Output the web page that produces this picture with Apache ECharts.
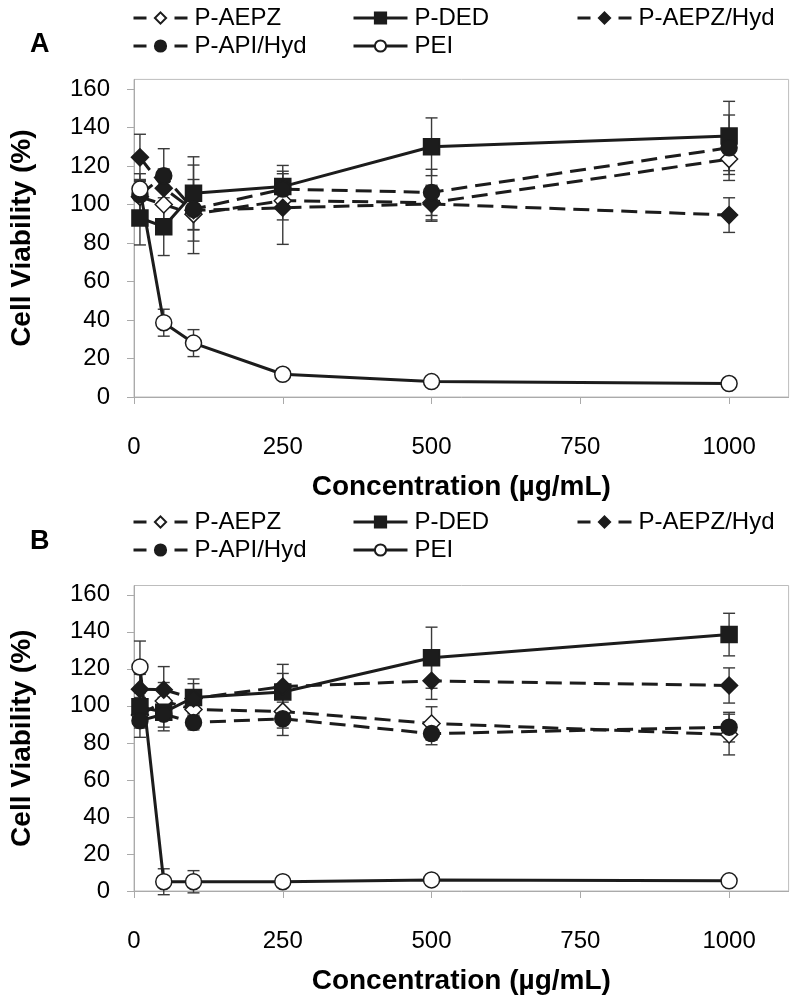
<!DOCTYPE html>
<html><head><meta charset="utf-8">
<script src="https://cdn.jsdelivr.net/npm/echarts@6/dist/echarts.min.js"></script>
<style>html,body{margin:0;padding:0;background:#fff}#c{width:800px;height:996px}</style>
</head><body><div id="c"></div>
<script>
// ---- data ----
const concentrations = [10, 50, 100, 250, 500, 1000];
const seriesNames = ['P-AEPZ', 'P-DED', 'P-AEPZ/Hyd', 'P-API/Hyd', 'PEI'];
const xTicks = [0, 250, 500, 750, 1000];
const yTicks = [0, 20, 40, 60, 80, 100, 120, 140, 160];

// Panel A
const aAEPZ      = [104, 100, 95, 102, 101, 123.6];
const aAEPZErr   = [8, 8, 8, 10, 9, 8];
const aDED       = [93, 88.5, 105.8, 109.3, 130, 135.6];
const aDEDErr    = [14, 15, 19, 11, 15, 18];
const aAEPZHyd   = [124.5, 108.5, 97, 98.3, 100.3, 94.5];
const aAEPZHydErr= [12, 10, 16, 19, 9, 9];
const aAPIHyd    = [105, 115, 97.5, 108, 106.3, 129.5];
const aAPIHydErr = [11, 14, 23, 8, 12, 17];
const aPEI       = [108, 38.6, 28, 11.8, 8, 7];
const aPEIErr    = [5, 7, 7, 2, 1, 1];

// Panel B
const bAEPZ      = [95, 102.6, 98, 97, 90.5, 84.5];
const bAEPZErr   = [7, 10, 10, 9, 9, 11];
const bDED       = [99.5, 96.5, 104.5, 107.5, 126, 138.5];
const bDEDErr    = [5, 8, 10, 10, 16.5, 11.5];
const bAEPZHyd   = [109, 108.7, 104, 110.4, 113.5, 111];
const bAEPZHydErr= [8, 12.5, 8, 12, 10, 9.5];
const bAPIHyd    = [92, 95.5, 91, 93, 85, 88.5];
const bAPIHydErr = [9, 9, 4, 9, 6, 8];
const bPEI       = [121, 5, 5, 5, 6, 5.5];
const bPEIErr    = [14, 7, 6, 1, 1, 1];

// ---- styles ----
const INK = '#1c1c1c';
const FONT = 'Liberation Sans, Arial, sans-serif';
const styles = {
  'P-AEPZ':     {symbol: 'diamond', size: 17, fill: '#fff', dash: [16, 8], legendDash: [13, 28]},
  'P-DED':      {symbol: 'rect', size: 16, fill: INK, dash: 'solid', legendDash: 'solid'},
  'P-AEPZ/Hyd': {symbol: 'diamond', size: 17, fill: INK, dash: [16, 8], legendDash: [13, 28]},
  'P-API/Hyd':  {symbol: 'circle', size: 16, fill: INK, dash: [16, 8], legendDash: [13, 28]},
  'PEI':        {symbol: 'circle', size: 16, fill: '#fff', dash: 'solid', legendDash: 'solid'}
};

const panels = [
  {vals: [aAEPZ, aDED, aAEPZHyd, aAPIHyd, aPEI], errs: [aAEPZErr, aDEDErr, aAEPZHydErr, aAPIHydErr, aPEIErr]},
  {vals: [bAEPZ, bDED, bAEPZHyd, bAPIHyd, bPEI], errs: [bAEPZErr, bDEDErr, bAEPZHydErr, bAPIHydErr, bPEIErr]}
];

const gridTops = [79.4, 585.5];
const gridHeights = [317.6, 316];

const grids = [], xAxes = [], yAxes = [], series = [], legends = [], graphics = [];

const legendPos = [
  {name: 'P-AEPZ', left: 132, row: 0},
  {name: 'P-DED', left: 352, row: 0},
  {name: 'P-AEPZ/Hyd', left: 576, row: 0},
  {name: 'P-API/Hyd', left: 132, row: 1},
  {name: 'PEI', left: 352, row: 1}
];
const legendRowTops = [[6, 34], [510, 538]];
const panelLabels = ['A', 'B'];
const panelLabelTops = [31, 528];

panels.forEach((p, pi) => {
  grids.push({left: 122, top: gridTops[pi], width: 666.6, height: gridHeights[pi], show: true,
              borderColor: '#bdbdbd', borderWidth: 1, backgroundColor: 'transparent'});
  xAxes.push({type: 'value', gridIndex: pi, min: 0, max: 1100,
    name: 'Concentration (µg/mL)', nameLocation: 'middle', nameGap: 76,
    nameTextStyle: {fontFamily: FONT, fontWeight: 'bold', fontSize: 28, color: '#000'},
    axisLine: {show: true, lineStyle: {color: '#aaa', width: 1}},
    axisTick: {show: true, length: 7, lineStyle: {color: '#aaa'}, customValues: xTicks},
    axisLabel: {fontFamily: FONT, fontSize: 24, color: '#000', margin: 38, customValues: xTicks,
                formatter: v => String(v)},
    splitLine: {show: false}});
  yAxes.push({type: 'value', gridIndex: pi, min: 0, max: 165,
    name: 'Cell Viability (%)', nameLocation: 'middle', nameGap: 98, nameRotate: 90,
    nameTextStyle: {fontFamily: FONT, fontWeight: 'bold', fontSize: 28, color: '#000'},
    axisLine: {show: true, lineStyle: {color: '#aaa', width: 1}},
    axisTick: {show: true, length: 7, lineStyle: {color: '#aaa'}, customValues: yTicks},
    axisLabel: {fontFamily: FONT, fontSize: 24, color: '#000', margin: 24, customValues: yTicks,
                formatter: v => String(v)},
    splitLine: {show: false}});

  // error bars
  seriesNames.forEach((nm, si) => {
    const data = concentrations.map((c, i) => [c, p.vals[si][i] - p.errs[si][i], p.vals[si][i] + p.errs[si][i]]);
    series.push({type: 'custom', xAxisIndex: pi, yAxisIndex: pi, z: 1, silent: true,
      data: data,
      renderItem: function (params, api) {
        const x = api.value(0);
        const lo = api.coord([x, api.value(1)]);
        const hi = api.coord([x, api.value(2)]);
        const w = 6;
        const st = {stroke: '#3a3a3a', lineWidth: 1.4};
        return {type: 'group', children: [
          {type: 'line', shape: {x1: lo[0], y1: lo[1], x2: hi[0], y2: hi[1]}, style: st},
          {type: 'line', shape: {x1: lo[0] - w, y1: lo[1], x2: lo[0] + w, y2: lo[1]}, style: st},
          {type: 'line', shape: {x1: hi[0] - w, y1: hi[1], x2: hi[0] + w, y2: hi[1]}, style: st}
        ]};
      }});
  });
  // lines
  seriesNames.forEach((nm, si) => {
    const s = styles[nm];
    series.push({type: 'line', name: nm, xAxisIndex: pi, yAxisIndex: pi, z: 3,
      data: concentrations.map((c, i) => [c, p.vals[si][i]]),
      symbol: s.symbol, symbolSize: s.size, showAllSymbol: true,
      lineStyle: {color: INK, width: 3, type: s.dash},
      itemStyle: {color: s.fill, borderColor: INK, borderWidth: 1.5},
      emphasis: {disabled: true}, animation: false});
  });

  legendPos.forEach(lp => {
    legends.push({data: [lp.name], left: lp.left, top: legendRowTops[pi][lp.row],
      itemWidth: 54, itemHeight: 14, itemGap: 0, padding: 0,
      lineStyle: {type: styles[lp.name].legendDash, width: 3},
      textStyle: {fontFamily: FONT, fontSize: 24, color: '#000', padding: [0, 0, 0, 2]},
      selectedMode: false});
  });

  graphics.push({type: 'text', left: 30, top: panelLabelTops[pi],
    style: {text: panelLabels[pi], font: 'bold 27px ' + FONT, fill: '#000'}});
});

const chart = echarts.init(document.getElementById('c'), null, {renderer: 'canvas'});
chart.setOption({
  animation: false,
  grid: grids, xAxis: xAxes, yAxis: yAxes, series: series, legend: legends, graphic: graphics
});
</script></body></html>
